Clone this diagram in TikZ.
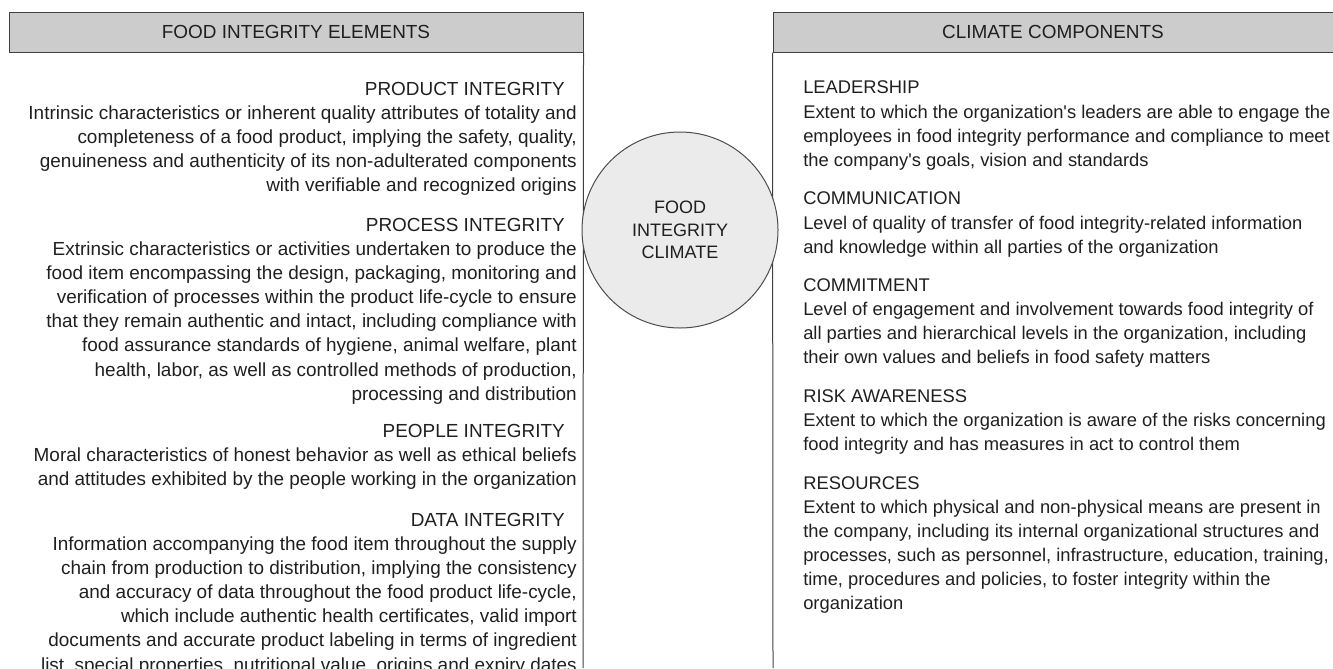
\documentclass[tikz,border=0pt]{standalone}
\usepackage{fontspec}
\setmainfont{Liberation Sans}
\begin{document}
\begin{tikzpicture}[x=0.75pt,y=-0.75pt,
  txt/.style={text=black!88, inner sep=0pt, font=\fontsize{14.2}{18.15}\selectfont},
  txtR/.style={text=black!88, inner sep=0pt, font=\fontsize{13.77}{18.15}\selectfont},
  header/.style={draw=black!75, line width=0.75pt, fill=black!20, inner sep=0pt,
    minimum height=30pt, txt},
  headR/.style={txt, anchor=base east},
  headL/.style={txtR, anchor=base west},
  paraR/.style={txt, anchor=base east},
  paraL/.style={txtR, anchor=base west},
  frame/.style={draw=black!75, line width=0.75pt},
  hub/.style={circle, draw=black!70, line width=0.75pt, fill=black!8, inner sep=0pt,
    minimum size=147pt, text=black!88, align=center,
    font=\fontsize{13.5}{16.9}\selectfont}]
\useasboundingbox (0,0) rectangle (1333,668);
\clip (0,0) rectangle (1333,668);

% column headers
\node[header, minimum width=430.5pt] (hdrL) at (296,32) {FOOD INTEGRITY ELEMENTS};
\node[header, minimum width=424.5pt] (hdrR) at (1056,32) {\hspace*{-4.5pt}CLIMATE COMPONENTS};

% column rules
\coordinate (botL) at (583,668);
\coordinate (botR) at (773,668);
\draw[frame] (hdrL.south east) -- (botL);
\draw[frame] (hdrR.south west) -- (botR);

\newcommand{\apos}{\textquotesingle}

% food integrity elements (right aligned)
\newcommand{\lpar}[1]{\parbox[t]{450pt}{\raggedleft #1}}
\node[headR] (hProd) at (565,95) {PRODUCT INTEGRITY};
\node[paraR] (tProd) at (577,119) {\lpar{Intrinsic characteristics or inherent quality attributes of totality and\\
completeness of a food product, implying the safety, quality,\\
genuineness and authenticity of its non-adulterated components\\
with verifiable and recognized origins}};

\node[headR] (hProc) at (565,231) {PROCESS INTEGRITY};
\node[paraR] (tProc) at (577,255) {\lpar{Extrinsic characteristics or activities undertaken to produce the\\
food item encompassing the design, packaging, monitoring and\\
verification of processes within the product life-cycle to ensure\\
that they remain authentic and intact, including compliance with\\
food assurance standards of hygiene, animal welfare, plant\\
health, labor, as well as controlled methods of production,\\
processing and distribution}};

\node[headR] (hPeop) at (565,437) {PEOPLE INTEGRITY};
\node[paraR] (tPeop) at (577,461) {\lpar{Moral characteristics of honest behavior as well as ethical beliefs\\
and attitudes exhibited by the people working in the organization}};

\node[headR] (hData) at (565,526) {DATA INTEGRITY};
\node[paraR] (tData) at (577,550) {\lpar{Information accompanying the food item throughout the supply\\
chain from production to distribution, implying the consistency\\
and accuracy of data throughout the food product life-cycle,\\
which include authentic health certificates, valid import\\
documents and accurate product labeling in terms of ingredient\\
list, special properties, nutritional value, origins and expiry dates}};

% climate components (left aligned)
\newcommand{\rpar}[1]{\parbox[t]{450pt}{\raggedright #1}}
\node[headL] (hLead) at (803,93) {LEADERSHIP};
\node[paraL] (tLead) at (803,118) {\rpar{Extent to which the organization\apos s leaders are able to engage the\\
employees in food integrity performance and compliance to meet\\
the company\apos s goals, vision and standards}};

\node[headL] (hComm) at (803,204) {COMMUNICATION};
\node[paraL] (tComm) at (803,229) {\rpar{Level of quality of transfer of food integrity-related information\\
and knowledge within all parties of the organization}};

\node[headL] (hComt) at (803,291) {COMMITMENT};
\node[paraL] (tComt) at (803,315) {\rpar{Level of engagement and involvement towards food integrity of\\
all parties and hierarchical levels in the organization, including\\
their own values and beliefs in food safety matters}};

\node[headL] (hRisk) at (803,402) {RISK AWARENESS};
\node[paraL] (tRisk) at (803,426) {\rpar{Extent to which the organization is aware of the risks concerning\\
food integrity and has measures in act to control them}};

\node[headL] (hRes) at (803,489) {RESOURCES};
\node[paraL] (tRes) at (803,513) {\rpar{Extent to which physical and non-physical means are present in\\
the company, including its internal organizational structures and\\
processes, such as personnel, infrastructure, education, training,\\
time, procedures and policies, to foster integrity within the\\
organization}};

% central concept
\node[hub] (climate) at (680,230) {FOOD\\INTEGRITY\\CLIMATE};
\end{tikzpicture}
\end{document}
